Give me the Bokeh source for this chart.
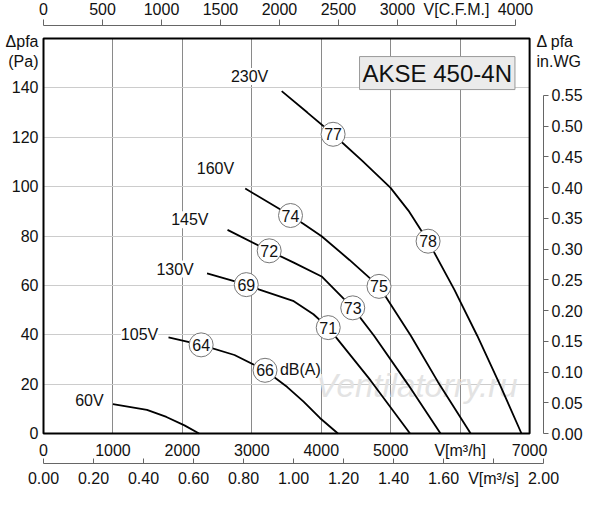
from bokeh.plotting import figure
from bokeh.models import (Range1d, LinearAxis, FixedTicker, ColumnDataSource,
                          LabelSet, Label, PrintfTickFormatter)
from bokeh.core.properties import value
from bokeh.embed import file_html
from bokeh.resources import INLINE

FONT = "Liberation Sans"

# fan curves: air flow V [m3/h] -> static pressure dpfa [Pa]
v_230 = [3430, 3800, 4170, 4595, 4995, 5255, 5538, 5916, 6246, 6575, 6883]
p_230 = [138.7, 130.0, 121.2, 110.3, 99.6, 90.3, 77.9, 58.3, 39.6, 19.6, 0]
v_160 = [2905, 3557, 3746, 4005, 4406, 4831, 5290, 5680, 6151]
p_160 = [99.2, 88.3, 84.9, 79.9, 70.3, 59.6, 39.6, 20.9, 0]
v_145 = [2650, 3250, 3604, 4005, 4453, 4760, 5255, 5717]
p_145 = [82.5, 74.0, 69.2, 63.6, 50.9, 39.6, 19.6, 0]
v_130 = [2355, 2920, 3109, 3604, 3887, 4100, 4710, 5278]
p_130 = [64.9, 60.3, 58.3, 53.6, 48.3, 42.9, 21.5, 0]
v_105 = [1800, 2270, 2750, 3190, 3510, 3745, 3980, 4240]
p_105 = [38.9, 35.9, 31.8, 25.6, 18.8, 12.9, 6.3, 0]
v_60 = [1000, 1490, 1770, 2030, 2240]
p_60 = [11.9, 9.6, 6.7, 3.3, 0]

speed_names = ["230V", "160V", "145V", "130V", "105V", "60V"]
speed_x = [2968, 2476, 2107, 1895, 1383, 661]
speed_y = [144.6, 107.3, 86.6, 66.6, 39.9, 13.3]

# sound level markers dB(A)
db_text = ["64", "66", "69", "71", "72", "73", "74", "75", "77", "78"]
db_x = [2270, 3190, 2920, 4100, 3250, 4453, 3557, 4831, 4170, 5538]
db_y = [35.9, 25.6, 60.3, 42.9, 74.0, 50.9, 88.3, 59.6, 121.2, 77.9]

flow_ticks = [0, 1000, 2000, 3000, 4000, 5000, 6000, 7000]
pa_ticks = [0, 20, 40, 60, 80, 100, 120, 140]
cfm_ticks = [0, 500, 1000, 1500, 2000, 2500, 3000, 3500, 4000]
ms_ticks = [0.0, 0.2, 0.4, 0.6, 0.8, 1.0, 1.2, 1.4, 1.6, 1.8, 2.0]
wg_ticks = [0.0, 0.05, 0.10, 0.15, 0.20, 0.25, 0.30, 0.35, 0.40, 0.45, 0.50, 0.55]

FLOW_MAX = 7000
FLOW_END = 7200          # = 2.00 m3/s
PA_MAX = 160
M3H_PER_CFM = 1.69901
PA_PER_INWG = 249.089

# page layout: the whole canvas is the plot frame, the chart box sits inside it
W, H = 584, 489
LEFT_PX, RIGHT_PX = 43, 543      # x = 0 and x = 7200 m3/h
TOP_PX, BOTTOM_PX = 38, 433      # y = 160 Pa and y = 0 Pa
ux = FLOW_END / (RIGHT_PX - LEFT_PX)
uy = PA_MAX / (BOTTOM_PX - TOP_PX)
x0, x1 = -LEFT_PX * ux, (W - LEFT_PX) * ux
y0, y1 = -(H - BOTTOM_PX) * uy, PA_MAX + TOP_PX * uy

CFM_AXIS_AT = PA_MAX + 13 * uy
MS_AXIS_AT = -30 * uy
HEAD_1 = PA_MAX - 3 * uy
HEAD_2 = PA_MAX - 23 * uy

p = figure(width=W, height=H, x_range=Range1d(x0, x1), y_range=Range1d(y0, y1),
           output_backend="svg", toolbar_location=None,
           min_border=0, min_border_left=0, min_border_right=0,
           min_border_top=0, min_border_bottom=0)
p.outline_line_color = None

p.extra_x_ranges = {"cfm": Range1d(x0 / M3H_PER_CFM, x1 / M3H_PER_CFM),
                    "ms": Range1d(x0 / 3600, x1 / 3600)}
p.extra_y_ranges = {"wg": Range1d(y0 / PA_PER_INWG, y1 / PA_PER_INWG)}


def style_labels(ax):
    ax.major_label_text_font = FONT
    ax.major_label_text_font_size = "16px"
    ax.major_label_text_color = "#111111"


def no_ticks(ax):
    ax.axis_line_color = None
    ax.major_tick_line_color = None
    ax.minor_tick_line_color = None
    ax.major_tick_out = 0
    ax.major_tick_in = 0


# main axes
xa = p.xaxis[0]
xa.fixed_location = 0
xa.ticker = FixedTicker(ticks=flow_ticks)
xa.major_label_overrides = {6000: "V[m³/h]"}
xa.major_label_standoff = 8
no_ticks(xa)
style_labels(xa)

ya = p.yaxis[0]
ya.fixed_location = 0
ya.ticker = FixedTicker(ticks=pa_ticks + [HEAD_2, HEAD_1])
ya.major_label_overrides = {HEAD_1: "Δpfa", HEAD_2: "(Pa)"}
ya.major_label_standoff = 5
no_ticks(ya)
style_labels(ya)

p.xgrid.ticker = FixedTicker(ticks=flow_ticks[1:-1])
p.xgrid.cross_bounds = (0, PA_MAX)
p.xgrid.grid_line_color = "#8a8a8a"
p.xgrid.grid_line_width = 1
p.ygrid.ticker = FixedTicker(ticks=pa_ticks[1:])
p.ygrid.cross_bounds = (0, FLOW_MAX)
p.ygrid.grid_line_color = "#cccccc"
p.ygrid.grid_line_width = 1

# lower m3/s axis
ms_axis = LinearAxis(x_range_name="ms", ticker=FixedTicker(ticks=ms_ticks),
                     formatter=PrintfTickFormatter(format="%.2f"),
                     fixed_location=MS_AXIS_AT,
                     bounds=(0, 2.0), major_tick_in=5, major_tick_out=0,
                     major_label_standoff=6,
                     major_label_overrides={1.8: "V[m³/s]"},
                     axis_line_color="#666666", major_tick_line_color="#666666",
                     minor_tick_line_color=None)
style_labels(ms_axis)
p.add_layout(ms_axis, "below")

# upper CFM axis
cfm_axis = LinearAxis(x_range_name="cfm", ticker=FixedTicker(ticks=cfm_ticks),
                      fixed_location=CFM_AXIS_AT,
                      bounds=(0, 4000), major_tick_out=6, major_tick_in=0,
                      major_label_standoff=2,
                      major_label_overrides={3500: "V[C.F.M.]"},
                      axis_line_color="#666666", major_tick_line_color="#666666",
                      minor_tick_line_color=None)
style_labels(cfm_axis)
p.add_layout(cfm_axis, "above")

# right in.WG axis
wg_axis = LinearAxis(y_range_name="wg", ticker=FixedTicker(ticks=wg_ticks),
                     formatter=PrintfTickFormatter(format="%.2f"),
                     fixed_location=FLOW_END,
                     bounds=(0, 0.55), major_tick_out=5, major_tick_in=0,
                     major_label_standoff=3,
                     axis_line_color="#666666", major_tick_line_color="#666666",
                     minor_tick_line_color=None)
style_labels(wg_axis)
p.add_layout(wg_axis, "right")

# right unit heading
head_axis = LinearAxis(ticker=FixedTicker(ticks=[HEAD_2, HEAD_1]),
                       fixed_location=FLOW_END, major_label_standoff=-7,
                       major_label_overrides={HEAD_1: "Δ pfa", HEAD_2: "in.WG"})
no_ticks(head_axis)
style_labels(head_axis)
p.add_layout(head_axis, "right")

# chart box
p.quad(left=[0], right=[FLOW_MAX], bottom=[0], top=[PA_MAX],
       fill_color=None, line_color="black", line_width=2)

# watermark
p.text(x=[5373], y=[19.6], text=["Ventilatorry.ru"], text_font=value(FONT),
       text_font_size="33px", text_font_style="italic", text_color="#e3e3e3",
       text_align="center", text_baseline="middle")

for vx, vy in [(v_230, p_230), (v_160, p_160), (v_145, p_145),
               (v_130, p_130), (v_105, p_105), (v_60, p_60)]:
    p.line(vx, vy, line_color="black", line_width=1.8)

speed_src = ColumnDataSource(dict(x=speed_x, y=speed_y, t=speed_names))
p.add_layout(LabelSet(x="x", y="y", text="t", source=speed_src,
                      text_font=value(FONT), text_font_size="16px", text_color="#111111",
                      text_align="center", text_baseline="middle",
                      background_fill_color="white"))

db_src = ColumnDataSource(dict(x=db_x, y=db_y, t=db_text))
p.scatter("x", "y", source=db_src, size=24, fill_color="white",
          line_color="#777777", line_width=1)
p.text("x", "y", text="t", source=db_src, text_font=value(FONT),
       text_font_size="16px", text_color="#111111",
       text_align="center", text_baseline="middle")

p.add_layout(Label(x=3699, y=26, text="dB(A)", text_font=FONT, text_font_size="16px",
                   text_color="#111111", text_align="center", text_baseline="middle",
                   background_fill_color="white"))

# model name box
p.add_layout(Label(x=5670, y=146, text="AKSE 450-4N", text_font=FONT,
                   text_font_size="24px", text_color="#111111",
                   text_align="center", text_baseline="middle",
                   background_fill_color="#ebebeb", border_line_color="#999999",
                   padding=3))

open("out.html", "w").write(file_html(p, INLINE))
